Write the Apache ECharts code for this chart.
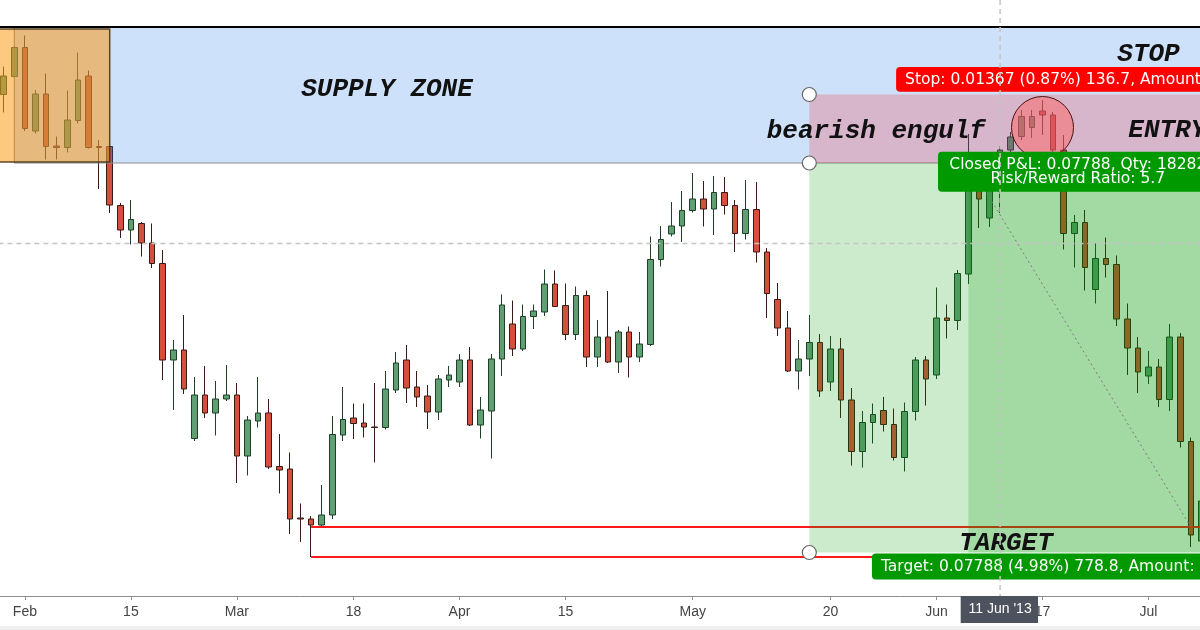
<!DOCTYPE html>
<html><head><meta charset="utf-8">
<script src="https://cdn.jsdelivr.net/npm/echarts@6/dist/echarts.min.js"></script>
<style>html,body{margin:0;padding:0;background:#fff}#c{width:1200px;height:630px}</style>
</head><body><div id="c"></div>
<script>
const dates = [
'2013-01-30','2013-01-31',
'2013-02-01','2013-02-04','2013-02-05','2013-02-06','2013-02-07','2013-02-08','2013-02-11','2013-02-12','2013-02-13','2013-02-14','2013-02-15',
'2013-02-18','2013-02-19','2013-02-20','2013-02-21','2013-02-22','2013-02-25','2013-02-26','2013-02-27','2013-02-28',
'2013-03-01','2013-03-04','2013-03-05','2013-03-06','2013-03-07','2013-03-08','2013-03-11','2013-03-12','2013-03-13','2013-03-14','2013-03-15',
'2013-03-18','2013-03-19','2013-03-20','2013-03-21','2013-03-22','2013-03-25','2013-03-26','2013-03-27','2013-03-28','2013-03-29',
'2013-04-01','2013-04-02','2013-04-03','2013-04-04','2013-04-05','2013-04-08','2013-04-09','2013-04-10','2013-04-11','2013-04-12',
'2013-04-15','2013-04-16','2013-04-17','2013-04-18','2013-04-19','2013-04-22','2013-04-23','2013-04-24','2013-04-25','2013-04-26','2013-04-29','2013-04-30',
'2013-05-01','2013-05-02','2013-05-03','2013-05-06','2013-05-07','2013-05-08','2013-05-09','2013-05-10','2013-05-13','2013-05-14','2013-05-15','2013-05-16','2013-05-17',
'2013-05-20','2013-05-21','2013-05-22','2013-05-23','2013-05-24','2013-05-27','2013-05-28','2013-05-29','2013-05-30','2013-05-31',
'2013-06-03','2013-06-04','2013-06-05','2013-06-06','2013-06-07','2013-06-10','2013-06-11','2013-06-12','2013-06-13','2013-06-14',
'2013-06-17','2013-06-18','2013-06-19','2013-06-20','2013-06-21','2013-06-24','2013-06-25','2013-06-26','2013-06-27','2013-06-28',
'2013-07-01','2013-07-02','2013-07-03','2013-07-04','2013-07-05','2013-07-08'];

const opens = [
1.5772,1.5808,1.5866,1.5699,1.5773,1.5669,1.5666,1.5720,1.5809,1.5668,
1.5668,1.5550,1.5501,1.5514,1.5475,1.5434,1.5241,1.5261,1.5084,1.5171,
1.5135,1.5163,1.5171,1.5049,1.5119,1.5135,1.5028,1.5023,1.4925,1.4923,
1.4911,1.4931,1.5091,1.5125,1.5115,1.5107,1.5106,1.5181,1.5241,1.5187,
1.5169,1.5137,1.5201,1.5197,1.5241,1.5111,1.5139,1.5243,1.5313,1.5263,
1.5328,1.5337,1.5393,1.5350,1.5292,1.5370,1.5247,1.5287,1.5237,1.5297,
1.5247,1.5272,1.5442,1.5493,1.5509,1.5540,1.5563,1.5543,1.5576,1.5550,
1.5494,1.5542,1.5457,1.5362,1.5305,1.5219,1.5243,1.5276,1.5197,1.5263,
1.5161,1.5058,1.5116,1.5140,1.5112,1.5046,1.5138,1.5241,1.5211,1.5325,
1.5320,1.5413,1.5597,1.5525,1.5585,1.5661,1.5688,1.5706,1.5739,1.5731,
1.5661,1.5494,1.5516,1.5382,1.5444,1.5432,1.5323,1.5265,1.5209,1.5227,
1.5162,1.5287,1.5078,1.4879];
const closes = [
1.5809,1.5866,1.5704,1.5773,1.5668,1.5666,1.5721,1.5801,1.5666,1.5666,
1.5551,1.5501,1.5522,1.5475,1.5434,1.5241,1.5261,1.5183,1.5171,1.5135,
1.5163,1.5171,1.5049,1.5121,1.5135,1.5027,1.5021,1.4923,1.4923,1.4911,
1.4931,1.5092,1.5122,1.5114,1.5107,1.5106,1.5183,1.5235,1.5185,1.5167,
1.5137,1.5203,1.5211,1.5241,1.5111,1.5141,1.5243,1.5351,1.5263,1.5328,
1.5339,1.5393,1.5348,1.5292,1.5370,1.5247,1.5287,1.5237,1.5297,1.5247,
1.5273,1.5442,1.5482,1.5509,1.5540,1.5563,1.5543,1.5576,1.5550,1.5494,
1.5542,1.5457,1.5374,1.5305,1.5219,1.5243,1.5276,1.5179,1.5263,1.5161,
1.5058,1.5116,1.5132,1.5112,1.5046,1.5138,1.5241,1.5203,1.5325,1.5320,
1.5414,1.5601,1.5563,1.5589,1.5661,1.5687,1.5728,1.5728,1.5731,1.5661,
1.5494,1.5516,1.5426,1.5444,1.5432,1.5323,1.5265,1.5217,1.5227,1.5162,
1.5287,1.5078,1.4891,1.4959];
const lows = [
1.5736,1.5805,1.5699,1.5694,1.5642,1.5642,1.5656,1.5714,1.5664,1.5583,
1.5535,1.5485,1.5472,1.5448,1.5425,1.5201,1.5141,1.5173,1.5079,1.5125,
1.5090,1.5159,1.4995,1.5010,1.5106,1.5023,1.4974,1.4893,1.4877,1.4847,
1.4907,1.4923,1.5079,1.5083,1.5086,1.5036,1.5102,1.5175,1.5155,1.5147,
1.5103,1.5121,1.5187,1.5187,1.5109,1.5084,1.5044,1.5209,1.5249,1.5259,
1.5303,1.5329,1.5347,1.5281,1.5281,1.5227,1.5227,1.5235,1.5215,1.5206,
1.5237,1.5269,1.5428,1.5488,1.5477,1.5536,1.5508,1.5491,1.5532,1.5457,
1.5482,1.5436,1.5325,1.5289,1.5217,1.5182,1.5209,1.5167,1.5179,1.5125,
1.5030,1.5026,1.5074,1.5098,1.5040,1.5018,1.5120,1.5150,1.5203,1.5284,
1.5301,1.5393,1.5505,1.5507,1.5535,1.5655,1.5681,1.5685,1.5691,1.5657,
1.5462,1.5426,1.5380,1.5354,1.5406,1.5309,1.5211,1.5175,1.5193,1.5147,
1.5139,1.5066,1.4867,1.4865];
const highs = [
1.5828,1.5869,1.5890,1.5781,1.5814,1.5688,1.5780,1.5856,1.5820,1.5681,
1.5669,1.5555,1.5561,1.5517,1.5514,1.5461,1.5281,1.5331,1.5207,1.5229,
1.5199,1.5231,1.5195,1.5129,1.5207,1.5163,1.5093,1.5056,1.4954,1.4929,
1.4991,1.5129,1.5187,1.5154,1.5154,1.5195,1.5219,1.5257,1.5271,1.5219,
1.5191,1.5211,1.5229,1.5253,1.5267,1.5167,1.5253,1.5372,1.5360,1.5352,
1.5352,1.5422,1.5420,1.5394,1.5388,1.5380,1.5321,1.5379,1.5301,1.5308,
1.5297,1.5488,1.5509,1.5557,1.5579,1.5615,1.5599,1.5609,1.5607,1.5561,
1.5601,1.5597,1.5465,1.5395,1.5339,1.5281,1.5331,1.5293,1.5289,1.5285,
1.5185,1.5139,1.5154,1.5167,1.5144,1.5156,1.5247,1.5249,1.5386,1.5352,
1.5421,1.5693,1.5621,1.5609,1.5669,1.5697,1.5741,1.5741,1.5761,1.5737,
1.5691,1.5531,1.5541,1.5474,1.5486,1.5450,1.5354,1.5287,1.5259,1.5243,
1.5313,1.5295,1.5086,1.4971];

const tickDates  = ['2013-02-01','2013-02-15','2013-03-01','2013-03-18','2013-04-01','2013-04-15','2013-05-01','2013-05-20','2013-06-03','2013-06-17','2013-07-01'];
const tickLabels = ['Feb','15','Mar','18','Apr','15','May','20','Jun','17','Jul'];

// trade / zone levels (prices)
const ENTRY = 1.5635, STOP = 1.5772, TARGET = 1.4856;
const supplyTop = 1.5907, orangeTop = 1.5903, orangeBottom = 1.5637;
const redLineUpper = 1.4907, redLineLower = 1.4847;
const circlePrice = 1.5706;
const crossPrice = 1.5474;
// key dates
const supplyStart = '2013-01-31', orangeEnd = '2013-02-13', redLineStart = '2013-03-12';
const tradeStart = '2013-05-16', entryDate = '2013-06-06', exitDate = '2013-07-05';
const circleDate = '2013-06-17', crossDate = '2013-06-11';
const crossLabel = "11 Jun '13";
const stopText = 'Stop: 0.01367 (0.87%) 136.7, Amount: 10000';
const closedText1 = 'Closed P&L: 0.07788, Qty: 18282';
const closedText2 = 'Risk/Reward Ratio: 5.7';
const targetText = 'Target: 0.07788 (4.98%) 778.8, Amount: 10000';
const notes = [
  {text:'SUPPLY ZONE', date:'2013-03-21', price:1.5783, dx:1.7, align:'center'},
  {text:'bearish engulf', date:'2013-05-24', price:1.5699, dx:3, align:'center'},
  {text:'STOP', date:'2013-07-01', price:1.5852, dx:0, align:'center'},
  {text:'ENTRY', date:'2013-06-27', price:1.5700, dx:1, align:'left'},
  {text:'TARGET', date:'2013-06-12', price:1.4875, dx:-4.7, align:'center'}
];

const chart = echarts.init(document.getElementById('c'), null, {renderer:'canvas'});
const idx = d => dates.indexOf(d);

function txt(x, y, text, font, fill, align, valign) {
  return {type:'text', x:x, y:y, style:{text:text, font:font, fill:fill,
    align:align, verticalAlign:valign, textAlign:align, textVerticalAlign:valign}};
}

function overlay(params, api) {
  const cs = params.coordSys;
  const L = cs.x, R = cs.x + cs.width, T = cs.y, B = cs.y + cs.height;
  const X = d => api.coord([idx(d), ENTRY])[0];
  const Y = p => api.coord([0, p])[1];
  const ch = [];
  const rect = (x0, y0, x1, y1, style) => ch.push({type:'rect', shape:{x:x0, y:y0, width:x1-x0, height:y1-y0}, style:style});
  const line = (x1, y1, x2, y2, style) => ch.push({type:'line', shape:{x1:x1, y1:y1, x2:x2, y2:y2}, style:style});

  // supply zone
  const xs = X(supplyStart);
  rect(xs, Y(supplyTop), R, Y(ENTRY), {fill:'rgba(33,120,230,0.22)'});
  line(xs, Y(ENTRY), R, Y(ENTRY), {stroke:'#8e8e8e', lineWidth:1.2});
  line(xs, Y(supplyTop), xs, Y(ENTRY), {stroke:'#7a7a7a', lineWidth:1});
  // orange box
  rect(L, Y(orangeTop), X(orangeEnd), Y(orangeBottom), {fill:'rgba(251,154,20,0.54)', stroke:'rgba(70,45,10,0.85)', lineWidth:1.5});
  line(L, Y(supplyTop), R, Y(supplyTop), {stroke:'#000', lineWidth:2});
  // red lines
  const xr = X(redLineStart);
  line(xr, Y(redLineUpper), R, Y(redLineUpper), {stroke:'#ff1a1a', lineWidth:2});
  line(xr, Y(redLineLower), R, Y(redLineLower), {stroke:'#ff1a1a', lineWidth:2});
  // trade zones
  const xt = X(tradeStart), xe = X(entryDate);
  rect(xt, Y(STOP), R, Y(ENTRY), {fill:'rgba(255,0,0,0.19)'});
  rect(xt, Y(ENTRY), R, Y(TARGET), {fill:'rgba(0,150,0,0.2)'});
  rect(xe, Y(ENTRY), R, Y(TARGET), {fill:'rgba(0,150,0,0.2)'});
  // trade path
  line(xe, Y(ENTRY), X(exitDate), Y(redLineUpper), {stroke:'#7d7d7d', lineWidth:1, lineDash:[2,3]});
  // highlight circle
  const cc = api.coord([idx(circleDate), circlePrice]);
  ch.push({type:'circle', shape:{cx:cc[0], cy:cc[1], r:31}, style:{fill:'rgba(255,100,100,0.5)', stroke:'#4a0f0f', lineWidth:1}});
  // handles
  [STOP, ENTRY, TARGET].forEach(p => ch.push({type:'circle', shape:{cx:xt, cy:Y(p), r:7}, style:{fill:'#fff', stroke:'#666', lineWidth:1.2}}));
  // notes
  notes.forEach(n => ch.push(txt(X(n.date) + n.dx, Y(n.price), n.text, 'italic bold 26px "Liberation Mono"', '#111', n.align, 'middle')));
  // labels
  const lf = '15.5px "DejaVu Sans"';
  const sx = X('2013-05-28') + 2, sy = Y(STOP) - 27.5;
  ch.push({type:'rect', shape:{x:sx, y:sy, width:340, height:24.7, r:[4,0,0,4]}, style:{fill:'#ff0000'}});
  ch.push(txt(sx + 9, sy + 12.6, stopText, lf, '#fff', 'left', 'middle'));
  const gx = X('2013-06-03') + 1.5, gy = Y(ENTRY) - 11.3;
  ch.push({type:'rect', shape:{x:gx, y:gy, width:290, height:40, r:4}, style:{fill:'#009a00'}});
  ch.push(txt(gx + 139.8, gy + 12.8, closedText1, lf, '#fff', 'center', 'middle'));
  ch.push(txt(gx + 139.8, gy + 27.6, closedText2, lf, '#fff', 'center', 'middle'));
  const tx = X('2013-05-24') - 1, ty = Y(TARGET) + 1;
  ch.push({type:'rect', shape:{x:tx, y:ty, width:340, height:26, r:[4,0,0,4]}, style:{fill:'#009a00'}});
  ch.push(txt(tx + 9, ty + 13, targetText, lf, '#fff', 'left', 'middle'));
  // crosshair
  const xc = X(crossDate), yc = Y(crossPrice);
  line(xc, T, xc, B, {stroke:'#c4c4c4', lineWidth:1.5, lineDash:[5,4]});
  line(L, yc, R, yc, {stroke:'#c4c4c4', lineWidth:1.5, lineDash:[5,4]});
  ch.push({type:'rect', shape:{x:xc - 39.4, y:B, width:77.3, height:27}, style:{fill:'#4c525e'}});
  ch.push(txt(xc, B + 13.5, crossLabel, '14px "Liberation Sans"', '#fff', 'center', 'middle'));
  return {type:'group', children:ch};
}

const option = {
  animation: false,
  backgroundColor: '#fff',
  grid: {left: -1.6, width: 1208.4, top: 0, bottom: 34, containLabel: false, outerBoundsMode: 'none'},
  xAxis: {
    type: 'category', data: dates, boundaryGap: true,
    axisLine: {lineStyle: {color: '#8c8c8c', width: 1}},
    axisTick: {show: true, alignWithLabel: true, length: 4, interval: (i, v) => tickDates.includes(v), lineStyle: {color: '#8c8c8c'}},
    axisLabel: {interval: (i, v) => tickDates.includes(v), formatter: v => { const k = tickDates.indexOf(v); return k >= 0 ? tickLabels[k] : ''; },
      color: '#444', fontSize: 14, fontFamily: 'Liberation Sans', margin: 9},
    splitLine: {show: false}
  },
  yAxis: {type: 'value', min: 1.4769, max: 1.5961, show: false, splitLine: {show: false}},
  graphic: [{type:'rect', shape:{x:0, y:626, width:1200, height:4}, style:{fill:'#efefef'}, z:-1}],
  series: [
    {type: 'candlestick', z: 2, barWidth: 6,
     data: dates.map((d, i) => [opens[i], closes[i], lows[i], highs[i]]),
     itemStyle: {color: '#5f9f72', color0: '#d4503c', borderColor: '#1f3f28', borderColor0: '#3a1a14', borderWidth: 1}},
    {type: 'custom', z: 3, silent: true, clip: false, renderItem: overlay, data: [[0, ENTRY]]}
  ]
};
chart.setOption(option);
</script></body></html>
